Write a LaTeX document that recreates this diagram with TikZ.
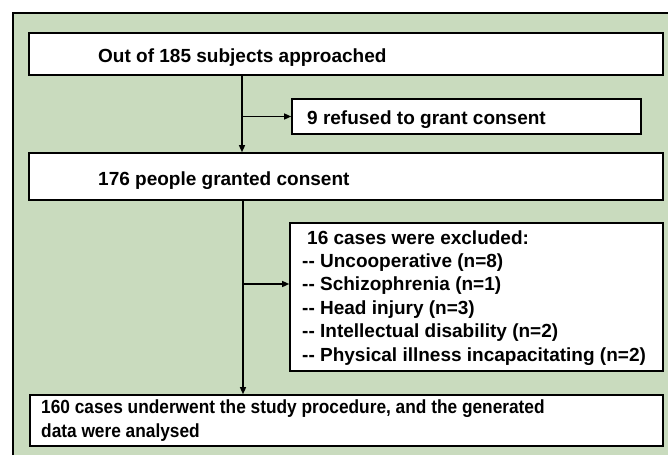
\documentclass[tikz,border=0pt]{standalone}
\usepackage{fontspec}
\setmainfont{Liberation Sans}
\newfontfamily\narrowfont[FakeStretch=0.91]{Liberation Sans}
\usetikzlibrary{arrows.meta}
\definecolor{bggreen}{HTML}{C9DBBE}
\begin{document}
\begin{tikzpicture}[x=1pt,y=-1pt,
  box/.style={draw=black,line width=1.6pt,fill=white,inner sep=0pt},
  lbl/.style={anchor=base west,inner sep=0pt,font=\fontsize{19}{23.4}\selectfont\bfseries},
  arr/.style={line width=1.3pt,-{Triangle[length=7pt,width=6pt]}},
  ln/.style={line width=1.3pt}]
\useasboundingbox (0,0) rectangle (668,455);
\fill[bggreen] (13,13) rectangle (668,455);
\draw[line width=1.5pt] (13,455) -- (13,13) -- (668,13);
\node[box,minimum width=634pt,minimum height=42pt] (b1) at (346,54) {};
\node[box,minimum width=349pt,minimum height=35pt] (b2) at (466.5,116.5) {};
\node[box,minimum width=634pt,minimum height=47pt] (b3) at (346,176.5) {};
\node[box,minimum width=373pt,minimum height=148pt] (b4) at (476.5,297) {};
\node[box,minimum width=633pt,minimum height=51pt] (b5) at (346.5,420.5) {};
\node[lbl] (t1) at (98,62) {Out of 185 subjects approached};
\node[lbl] (t2) at (307,124) {9 refused to grant consent};
\node[lbl] (t3) at (98,185) {176 people granted consent};
\node[lbl,align=left] (t4) at (302,361)
  {\hspace{5pt}16 cases were excluded:\\{-}{-} Uncooperative (n=8)\\{-}{-} Schizophrenia (n=1)\\{-}{-} Head injury (n=3)\\{-}{-} Intellectual disability (n=2)\\{-}{-} Physical illness incapacitating (n=2)};
\node[lbl,align=left,font=\narrowfont\fontsize{19}{24}\selectfont\bfseries] (t5) at (41,437)
  {160 cases underwent the study procedure, and the generated\\data were analysed};
\coordinate (v1) at (242,0);
\coordinate (v2) at (243,0);
\coordinate (j2) at (243,284);
\draw[arr] (v1 |- b1.south) -- (v1 |- b3.north);
\draw[arr] (v1 |- b2.west) -- (b2.west);
\draw[arr] (v2 |- b3.south) -- (v2 |- b5.north);
\draw[arr] (j2) -- (j2 -| b4.west);
\end{tikzpicture}
\end{document}
